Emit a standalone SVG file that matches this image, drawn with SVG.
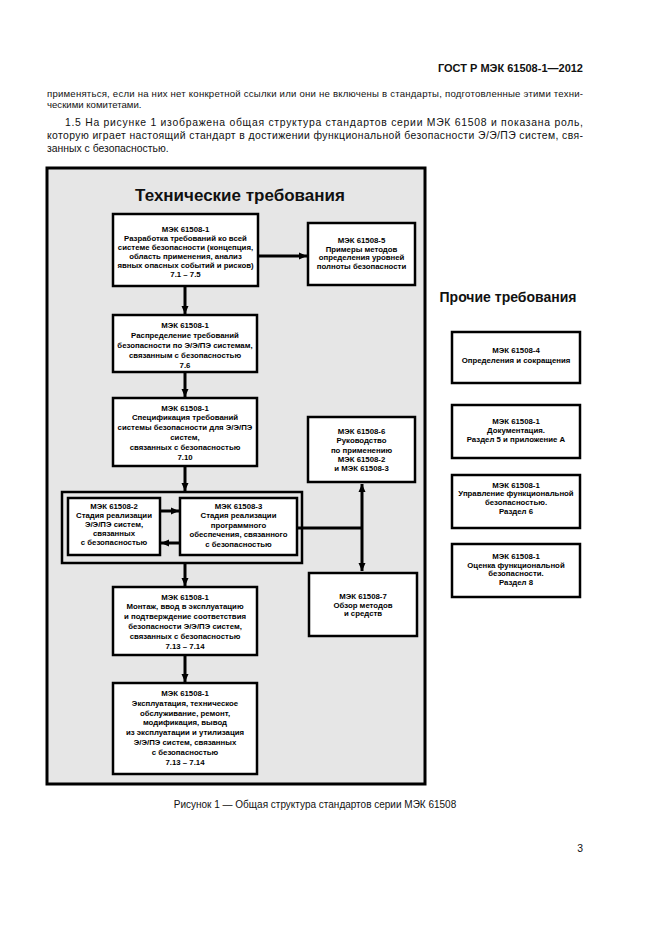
<svg xmlns="http://www.w3.org/2000/svg" width="661" height="935" viewBox="0 0 661 935">
<defs>
<style>
.page{font-family:"Liberation Sans",Arial,sans-serif;fill:#111}
.hdr{font-size:11px;font-weight:bold}
.body{font-size:9.6px}
.body2{font-size:10.4px}
.cap{font-size:10px}
.title{font-size:17px;font-weight:bold}
.title2{font-size:14px;font-weight:bold}
.box{fill:#fff;stroke:#000;stroke-width:2.5}
.cont{fill:none;stroke:#000;stroke-width:2.5}
.panel{fill:#e6e6e6;stroke:#000;stroke-width:3}
.t{font-family:"Liberation Sans",Arial,sans-serif;font-size:7.8px;font-weight:bold;fill:#000;text-anchor:middle}
.conn{stroke:#000;stroke-width:3;fill:none}
</style>
<marker id="ah" markerUnits="userSpaceOnUse" markerWidth="8" markerHeight="8" viewBox="0 0 8 8" refX="8" refY="4" orient="auto-start-reverse">
<path d="M0,0.5 L8,4 L0,7.5 Z" fill="#000"/>
</marker>
</defs>
<rect width="661" height="935" fill="#fff"/>

<g id="page-text" class="page">
<text class="hdr" x="583" y="72" text-anchor="end">ГОСТ Р МЭК 61508-1—2012</text>
<text class="body" x="47" y="97" textLength="536" lengthAdjust="spacing">применяться, если на них нет конкретной ссылки или они не включены в стандарты, подготовленные этими техни-</text>
<text class="body" x="47" y="108">ческими комитетами.</text>
<text class="body2" x="65" y="126" textLength="518" lengthAdjust="spacing">1.5 На рисунке 1 изображена общая структура стандартов серии МЭК 61508 и показана роль,</text>
<text class="body2" x="47" y="139" textLength="536" lengthAdjust="spacing">которую играет настоящий стандарт в достижении функциональной безопасности Э/Э/ПЭ систем, свя-</text>
<text class="body2" x="47" y="152">занных с безопасностью.</text>
<text class="cap" x="315" y="808" text-anchor="middle">Рисунок 1 — Общая структура стандартов серии МЭК 61508</text>
<text class="body2" x="583" y="852" text-anchor="end">3</text>
</g>

<g id="panel-tech">
<rect class="panel" x="47" y="168" width="378" height="616"/>
<text class="page title" x="240" y="201" text-anchor="middle">Технические требования</text>
</g>

<g id="connectors">
<line class="conn" x1="258" y1="256" x2="307" y2="256" marker-end="url(#ah)"/>
<line class="conn" x1="185" y1="287" x2="185" y2="314" marker-end="url(#ah)"/>
<line class="conn" x1="185" y1="373" x2="185" y2="397" marker-end="url(#ah)"/>
<line class="conn" x1="185" y1="467" x2="185" y2="491" marker-end="url(#ah)"/>
<line class="conn" x1="185" y1="564" x2="185" y2="586" marker-end="url(#ah)"/>
<line class="conn" x1="185" y1="656" x2="185" y2="682" marker-end="url(#ah)"/>
<line class="conn" x1="161" y1="511" x2="179" y2="511" marker-end="url(#ah)"/>
<line class="conn" x1="179" y1="543" x2="161" y2="543" marker-end="url(#ah)"/>
<line class="conn" x1="297" y1="528" x2="362" y2="528"/>
<line class="conn" x1="362" y1="484" x2="362" y2="571" marker-start="url(#ah)" marker-end="url(#ah)"/>
</g>

<g id="n1">
<rect class="box" x="113" y="214" width="145" height="72"/>
<text class="t" x="185.5" y="232">МЭК 61508-1</text>
<text class="t" x="185.5" y="241">Разработка требований ко всей</text>
<text class="t" x="185.5" y="250">системе безопасности (концепция,</text>
<text class="t" x="185.5" y="259">область применения, анализ</text>
<text class="t" x="185.5" y="268">явных опасных событий и рисков)</text>
<text class="t" x="185.5" y="277">7.1 – 7.5</text>
</g>

<g id="n5">
<rect class="box" x="308" y="223" width="107" height="62"/>
<text class="t" x="361.5" y="243">МЭК 61508-5</text>
<text class="t" x="361.5" y="251.7">Примеры методов</text>
<text class="t" x="361.5" y="260.4">определения уровней</text>
<text class="t" x="361.5" y="269.1">полноты безопасности</text>
</g>

<g id="n2">
<rect class="box" x="113" y="315" width="144" height="57"/>
<text class="t" x="185" y="328">МЭК 61508-1</text>
<text class="t" x="185" y="338">Распределение требований</text>
<text class="t" x="185" y="348">безопасности по Э/Э/ПЭ системам,</text>
<text class="t" x="185" y="358">связанным с безопасностью</text>
<text class="t" x="185" y="368">7.6</text>
</g>

<g id="n3">
<rect class="box" x="113" y="398" width="144" height="68"/>
<text class="t" x="185" y="410.5">МЭК 61508-1</text>
<text class="t" x="185" y="420.3">Спецификация требований</text>
<text class="t" x="185" y="430.1">системы безопасности для Э/Э/ПЭ</text>
<text class="t" x="185" y="439.9">систем,</text>
<text class="t" x="185" y="449.7">связанных с безопасностью</text>
<text class="t" x="185" y="459.5">7.10</text>
</g>

<g id="n6">
<rect class="box" x="308" y="417" width="107" height="65"/>
<text class="t" x="361.5" y="434">МЭК 61508-6</text>
<text class="t" x="361.5" y="443.3">Руководство</text>
<text class="t" x="361.5" y="452.6">по применению</text>
<text class="t" x="361.5" y="461.9">МЭК 61508-2</text>
<text class="t" x="361.5" y="471.2">и МЭК 61508-3</text>
</g>

<g id="realization">
<rect class="cont" x="62" y="492" width="240" height="71"/>
</g>

<g id="n2b">
<rect class="box" x="68" y="498" width="92" height="57"/>
<text class="t" x="114" y="508.5">МЭК 61508-2</text>
<text class="t" x="114" y="517.5">Стадия реализации</text>
<text class="t" x="114" y="526.5">Э/Э/ПЭ систем,</text>
<text class="t" x="114" y="535.5">связанных</text>
<text class="t" x="114" y="544.5">с безопасностью</text>
</g>

<g id="n3b">
<rect class="box" x="180" y="498" width="117" height="57"/>
<text class="t" x="238.5" y="508.5">МЭК 61508-3</text>
<text class="t" x="238.5" y="518">Стадия реализации</text>
<text class="t" x="238.5" y="527.5">программного</text>
<text class="t" x="238.5" y="537">обеспечения, связанного</text>
<text class="t" x="238.5" y="546.5">с безопасностью</text>
</g>

<g id="n7">
<rect class="box" x="309" y="573" width="108" height="63"/>
<text class="t" x="363" y="599">МЭК 61508-7</text>
<text class="t" x="363" y="607.5">Обзор методов</text>
<text class="t" x="363" y="616">и средств</text>
</g>

<g id="n4">
<rect class="box" x="113" y="587" width="144" height="68"/>
<text class="t" x="185" y="599.5">МЭК 61508-1</text>
<text class="t" x="185" y="609.3">Монтаж, ввод в эксплуатацию</text>
<text class="t" x="185" y="619.1">и подтверждение соответствия</text>
<text class="t" x="185" y="628.9">безопасности Э/Э/ПЭ систем,</text>
<text class="t" x="185" y="638.7">связанных с безопасностью</text>
<text class="t" x="185" y="648.5">7.13 – 7.14</text>
</g>

<g id="n8">
<rect class="box" x="113" y="683" width="144" height="91"/>
<text class="t" x="185" y="696">МЭК 61508-1</text>
<text class="t" x="185" y="705.8">Эксплуатация, техническое</text>
<text class="t" x="185" y="715.6">обслуживание, ремонт,</text>
<text class="t" x="185" y="725.4">модификация, вывод</text>
<text class="t" x="185" y="735.2">из эксплуатации и утилизация</text>
<text class="t" x="185" y="745">Э/Э/ПЭ систем, связанных</text>
<text class="t" x="185" y="754.8">с безопасностью</text>
<text class="t" x="185" y="764.6">7.13 – 7.14</text>
</g>

<g id="other-title">
<text class="page title2" x="508" y="302" text-anchor="middle">Прочие требования</text>
</g>

<g id="r1">
<rect class="box" x="452" y="332" width="128" height="51"/>
<text class="t" x="516" y="353">МЭК 61508-4</text>
<text class="t" x="516" y="363">Определения и сокращения</text>
</g>

<g id="r2">
<rect class="box" x="452" y="405" width="128" height="53"/>
<text class="t" x="516" y="424">МЭК 61508-1</text>
<text class="t" x="516" y="433">Документация.</text>
<text class="t" x="516" y="442">Раздел 5 и приложение А</text>
</g>

<g id="r3">
<rect class="box" x="452" y="475" width="128" height="53"/>
<text class="t" x="516" y="487.5">МЭК 61508-1</text>
<text class="t" x="516" y="496.2">Управление функциональной</text>
<text class="t" x="516" y="504.9">безопасностью.</text>
<text class="t" x="516" y="513.6">Раздел 6</text>
</g>

<g id="r4">
<rect class="box" x="452" y="544" width="128" height="53"/>
<text class="t" x="516" y="559">МЭК 61508-1</text>
<text class="t" x="516" y="567.7">Оценка функциональной</text>
<text class="t" x="516" y="576.4">безопасности.</text>
<text class="t" x="516" y="585.1">Раздел 8</text>
</g>
</svg>
